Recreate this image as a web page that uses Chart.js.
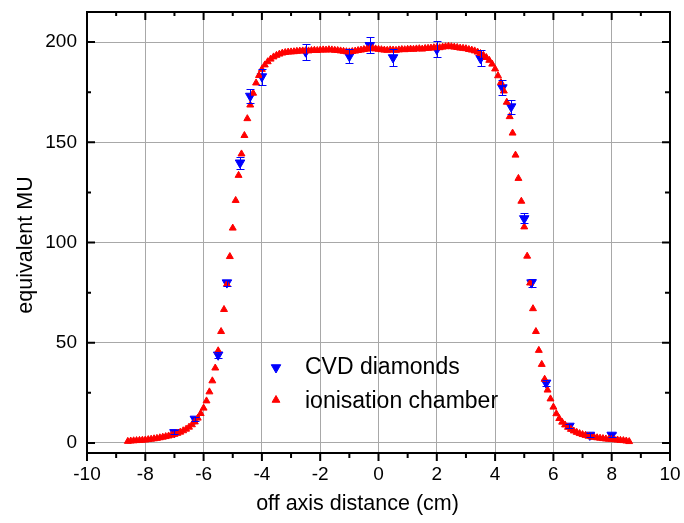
<!DOCTYPE html>
<html>
<head>
<meta charset="utf-8">
<script src="https://cdn.jsdelivr.net/npm/chart.js@4.4.1/dist/chart.umd.min.js"></script>
<style>
  html, body { margin: 0; padding: 0; background: #ffffff; }
  #c { display: block; }
</style>
</head>
<body>
<canvas id="c" width="684" height="523"></canvas>
<script>
// ---------------- data ----------------
const xTickValues = [-10, -8, -6, -4, -2, 0, 2, 4, 6, 8, 10];
const xMinorValues = [-9, -7, -5, -3, -1, 1, 3, 5, 7, 9];
const yTickValues = [0, 50, 100, 150, 200];
const yMinorValues = [25, 75, 125, 175];

const xTitle = 'off axis distance (cm)';
const yTitle = 'equivalent MU';
const seriesNames = ['CVD diamonds', 'ionisation chamber'];

// CVD diamonds (blue, down triangles, with error bars)
const cvdX = [-7.0, -6.3, -5.5, -5.2, -4.75, -4.4, -4.0, -2.5, -1.0, -0.3, 0.5, 2.0, 3.5, 4.25, 4.55, 5.0, 5.25, 5.75, 6.55, 7.25, 8.0];
const cvdY = [5.3, 12.0, 44.0, 80.0, 139.8, 173.1, 182.8, 195.2, 193.0, 198.4, 192.3, 196.4, 191.9, 177.3, 167.8, 112.0, 80.0, 30.0, 8.5, 4.0, 4.0];
const cvdErr = [1.0, 1.0, 1.5, 1.5, 2.9, 3.7, 4.0, 4.0, 3.5, 4.0, 4.0, 4.0, 4.0, 3.9, 3.5, 2.5, 2.0, 1.5, 1.0, 1.0, 1.0];

// ionisation chamber (red, up triangles)
const icX = [
  -8.6, -8.5, -8.4, -8.3, -8.2, -8.1, -8.0, -7.9, -7.8, -7.7, -7.6, -7.5, -7.4, -7.3, -7.2, -7.1,
  -7.0, -6.9, -6.8, -6.7, -6.6, -6.5, -6.4, -6.3, -6.2, -6.1, -6.0, -5.9, -5.8, -5.7, -5.6, -5.5,
  -5.4, -5.3, -5.2, -5.1, -5.0, -4.9, -4.8, -4.7, -4.6, -4.5, -4.4, -4.3, -4.2, -4.1, -4.0, -3.9,
  -3.8, -3.7, -3.6, -3.5, -3.4, -3.3, -3.2, -3.1, -3.0, -2.9, -2.8, -2.7, -2.6, -2.5, -2.4, -2.3,
  -2.2, -2.1, -2.0, -1.9, -1.8, -1.7, -1.6, -1.5, -1.4, -1.3, -1.2, -1.1, -1.0, -0.9, -0.8, -0.7,
  -0.6, -0.5, -0.4, -0.3, -0.2, -0.1, 0.0, 0.1, 0.2, 0.3, 0.4, 0.5, 0.6, 0.7, 0.8, 0.9,
  1.0, 1.1, 1.2, 1.3, 1.4, 1.5, 1.6, 1.7, 1.8, 1.9, 2.0, 2.1, 2.2, 2.3, 2.4, 2.5,
  2.6, 2.7, 2.8, 2.9, 3.0, 3.1, 3.2, 3.3, 3.4, 3.5, 3.6, 3.7, 3.8, 3.9, 4.0, 4.1,
  4.2, 4.3, 4.4, 4.5, 4.6, 4.7, 4.8, 4.9, 5.0, 5.1, 5.2, 5.3, 5.4, 5.5, 5.6, 5.7,
  5.8, 5.9, 6.0, 6.1, 6.2, 6.3, 6.4, 6.5, 6.6, 6.7, 6.8, 6.9, 7.0, 7.1, 7.2, 7.3,
  7.4, 7.5, 7.6, 7.7, 7.8, 7.9, 8.0, 8.1, 8.2, 8.3, 8.4, 8.5, 8.6
];
const icY = [
  0.8, 1.0, 1.1, 1.2, 1.3, 1.4, 1.5, 1.7, 1.9, 2.1, 2.3, 2.6, 2.9, 3.2, 3.5, 3.9,
  4.3, 4.8, 5.4, 6.1, 6.9, 7.9, 9.1, 10.5, 12.4, 14.7, 17.4, 21.0, 25.5, 31.0, 37.4, 46.0,
  55.6, 66.6, 79.2, 93.0, 107.2, 121.0, 133.5, 144.2, 153.4, 161.8, 168.6, 174.5, 179.6, 183.3, 186.4, 188.6,
  190.2, 191.5, 192.6, 193.4, 194.0, 194.5, 194.8, 195.0, 195.1, 195.2, 195.4, 195.5, 195.6, 195.7, 195.6, 195.8,
  195.9, 195.8, 196.0, 196.1, 196.0, 196.2, 196.1, 195.9, 195.8, 195.6, 195.4, 195.2, 195.1, 195.3, 195.5, 195.8,
  196.0, 196.3, 196.5, 196.7, 196.8, 196.6, 196.4, 196.2, 196.0, 195.9, 196.1, 196.0, 195.9, 196.1, 196.3, 196.2,
  196.4, 196.5, 196.4, 196.6, 196.7, 196.5, 196.8, 196.9, 197.0, 197.2, 197.3, 197.2, 197.5, 197.7, 197.9, 197.7,
  197.5, 197.3, 197.0, 196.9, 196.7, 196.3, 196.0, 195.6, 195.0, 194.3, 193.4, 192.3, 190.9, 189.0, 186.6, 183.2,
  179.8, 175.6, 170.0, 162.8, 154.6, 143.6, 132.0, 120.6, 107.8, 93.2, 79.8, 67.0, 55.6, 46.2, 39.2, 31.8,
  26.4, 22.0, 17.9, 14.6, 12.2, 10.4, 9.0, 7.8, 6.8, 6.0, 5.3, 4.7, 4.2, 3.8, 3.4, 3.1,
  2.8, 2.6, 2.4, 2.2, 2.0, 1.9, 1.8, 1.6, 1.5, 1.3, 1.2, 1.0, 0.7
];

// ---------------- styling ----------------
const FONT = "'Liberation Sans', Arial, Helvetica, sans-serif";
const BLUE = '#0000ff';
const RED = '#ff0000';
const GRID = '#a8a8a8';

const cvdPoints = cvdX.map((x, i) => ({ x: x, y: cvdY[i] }));
const icPoints = icX.map((x, i) => ({ x: x, y: icY[i] }));

const errorBarPlugin = {
  id: 'errorBars',
  afterDatasetsDraw(chart) {
    const { ctx, scales: { x, y } } = chart;
    ctx.save();
    ctx.strokeStyle = BLUE;
    ctx.lineWidth = 1;
    const cap = 4;
    for (let i = 0; i < cvdX.length; i++) {
      const px = Math.round(x.getPixelForValue(cvdX[i])) + 0.5;
      const pTop = Math.round(y.getPixelForValue(cvdY[i] + cvdErr[i])) + 0.5;
      const pBot = Math.round(y.getPixelForValue(cvdY[i] - cvdErr[i])) + 0.5;
      ctx.beginPath();
      ctx.moveTo(px, pTop); ctx.lineTo(px, pBot);
      ctx.moveTo(px - cap, pTop); ctx.lineTo(px + cap, pTop);
      ctx.moveTo(px - cap, pBot); ctx.lineTo(px + cap, pBot);
      ctx.stroke();
    }
    ctx.restore();
  }
};

const framePlugin = {
  id: 'frame',
  afterDraw(chart) {
    const { ctx, chartArea: { left, right, top, bottom }, scales: { x, y } } = chart;
    ctx.save();
    ctx.strokeStyle = '#000000';
    ctx.lineWidth = 2;
    ctx.strokeRect(left, top, right - left, bottom - top);

    ctx.beginPath();
    xTickValues.forEach(v => {
      const px = x.getPixelForValue(v);
      ctx.moveTo(px, top); ctx.lineTo(px, top + 8);        // top, inward
      ctx.moveTo(px, bottom); ctx.lineTo(px, bottom + 8);  // bottom, outward
    });
    xMinorValues.forEach(v => {
      const px = x.getPixelForValue(v);
      ctx.moveTo(px, top); ctx.lineTo(px, top + 4);
      ctx.moveTo(px, bottom); ctx.lineTo(px, bottom + 5);
    });
    yTickValues.forEach(v => {
      const py = y.getPixelForValue(v);
      ctx.moveTo(left, py); ctx.lineTo(left + 8, py);
      ctx.moveTo(right, py); ctx.lineTo(right - 8, py);
    });
    yMinorValues.forEach(v => {
      const py = y.getPixelForValue(v);
      ctx.moveTo(left, py); ctx.lineTo(left + 4, py);
      ctx.moveTo(right, py); ctx.lineTo(right - 5, py);
    });
    ctx.stroke();

    // axis titles
    ctx.fillStyle = '#000000';
    ctx.font = '21.5px ' + FONT;
    ctx.textAlign = 'center';
    ctx.textBaseline = 'alphabetic';
    ctx.fillText(xTitle, 357.5, 510);
    ctx.save();
    ctx.translate(31.5, 245);
    ctx.rotate(-Math.PI / 2);
    ctx.fillText(yTitle, 0, 0);
    ctx.restore();
    ctx.restore();

    // legend
    ctx.save();
    ctx.fillStyle = BLUE; ctx.strokeStyle = BLUE; ctx.lineWidth = 1;
    Chart.helpers.drawPoint(ctx, { pointStyle: 'triangle', radius: 5.5, rotation: 180, borderWidth: 1 }, 276, 367.5);
    ctx.fillStyle = RED; ctx.strokeStyle = RED;
    Chart.helpers.drawPoint(ctx, { pointStyle: 'triangle', radius: 4.5, rotation: 0, borderWidth: 1 }, 276, 400);
    ctx.fillStyle = '#000000';
    ctx.font = '23px ' + FONT;
    ctx.textAlign = 'left';
    ctx.textBaseline = 'alphabetic';
    ctx.fillText(seriesNames[0], 305, 374.3);
    ctx.fillText(seriesNames[1], 305, 407.7);
    ctx.restore();
  }
};

new Chart(document.getElementById('c'), {
  type: 'scatter',
  data: {
    datasets: [
      {
        label: seriesNames[1],
        data: icPoints,
        pointStyle: 'triangle',
        pointRadius: 4,
        pointRotation: 0,
        pointBackgroundColor: RED,
        pointBorderColor: RED,
        pointBorderWidth: 1,
        backgroundColor: RED,
        borderColor: RED,
        showLine: false,
        order: 0
      },
      {
        label: seriesNames[0],
        data: cvdPoints,
        pointStyle: 'triangle',
        pointRadius: 5.5,
        pointRotation: 180,
        pointBackgroundColor: BLUE,
        pointBorderColor: BLUE,
        pointBorderWidth: 1,
        backgroundColor: BLUE,
        borderColor: BLUE,
        showLine: false,
        order: 1
      }
    ]
  },
  options: {
    responsive: false,
    animation: false,
    devicePixelRatio: 1,
    events: [],
    layout: { padding: { top: 12, right: 14, left: 0, bottom: 0 } },
    plugins: { legend: { display: false }, tooltip: { enabled: false }, title: { display: false } },
    scales: {
      x: {
        type: 'linear',
        min: -10,
        max: 10,
        afterBuildTicks: s => { s.ticks = xTickValues.map(v => ({ value: v })); },
        afterFit: s => { s.height = 70; },
        grid: { color: GRID, lineWidth: 1, drawTicks: true, tickLength: 10, tickColor: 'rgba(0,0,0,0)' },
        border: { display: false },
        ticks: { color: '#000000', padding: 0, font: { family: FONT, size: 19 }, maxRotation: 0, autoSkip: false, callback: v => String(v) }
      },
      y: {
        type: 'linear',
        min: -5,
        max: 215,
        afterBuildTicks: s => { s.ticks = yTickValues.map(v => ({ value: v })); },
        afterFit: s => { s.width = 87; },
        grid: { color: GRID, lineWidth: 1, drawTicks: true, tickLength: 10, tickColor: 'rgba(0,0,0,0)' },
        border: { display: false },
        ticks: { color: '#000000', padding: 0, font: { family: FONT, size: 19 }, autoSkip: false, callback: v => String(v) }
      }
    }
  },
  plugins: [errorBarPlugin, framePlugin]
});
</script>
</body>
</html>
